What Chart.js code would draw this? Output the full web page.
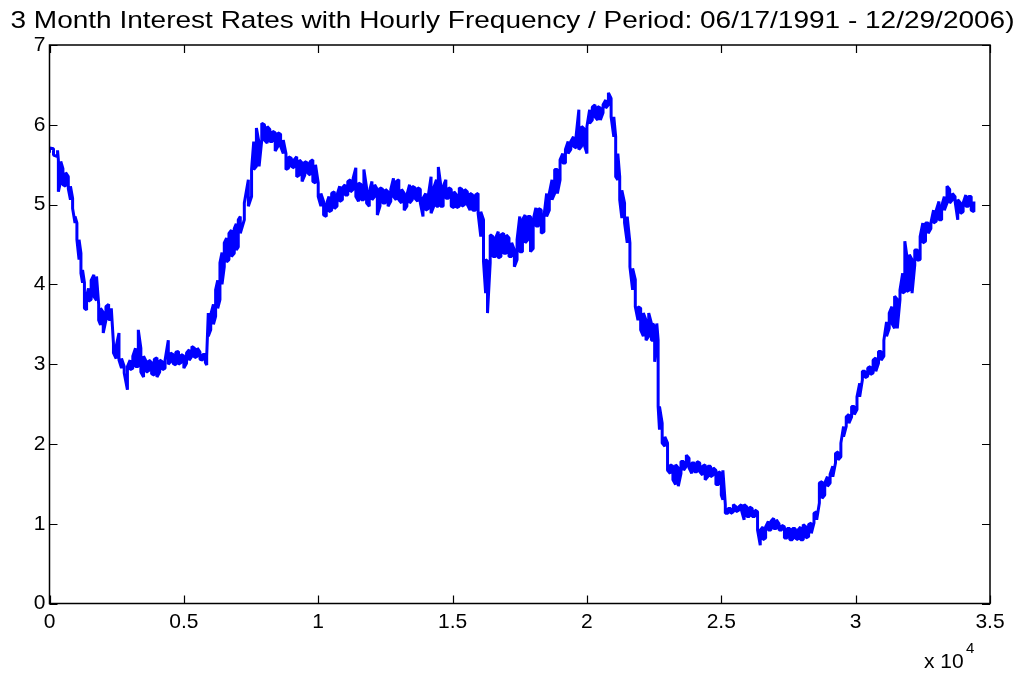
<!DOCTYPE html>
<html>
<head>
<meta charset="utf-8">
<title>3 Month Interest Rates</title>
<script src="https://cdn.jsdelivr.net/npm/chart.js@4.4.0/dist/chart.umd.min.js"></script>
<style>
  html, body { margin: 0; padding: 0; background: #ffffff; }
  #wrap { width: 1022px; height: 673px; }
</style>
</head>
<body>
<div id="wrap"><canvas id="c" width="1022" height="673"></canvas></div>
<script>
// Hourly observation index and the low / high rate seen around each index (percent)
const hours = [
  0,150,300,330,420,500,600,700,780,860,950,1020,1100,1170,1230,1300,1380,1450,1550,1650,
  1750,1830,1900,2000,2100,2200,2300,2380,2480,2586,2680,2780,2900,3000,3100,3200,
  3305,3400,3500,3600,3700,3800,3900,4000,4100,4200,4300,4421,4500,4600,4700,4800,4900,5000,5100,5200,
  5300,5400,5500,5600,5700,5800,5850,5909,6000,6100,6182,6260,6343,6420,6504,6590,6678,6770,6876,6950,7025,
  7100,7250,7400,7520,7600,7700,7800,7900,8000,8100,8200,8300,8400,8500,8600,8700,8800,
  8900,9000,9100,9200,9300,9400,9500,9600,9700,9800,9900,10000,10100,10200,10300,10400,10500,10600,10700,10800,
  10900,11000,11100,11200,11300,11400,11500,11600,11700,11800,11900,12000,12100,12200,12300,12400,12500,12600,12700,12800,
  12900,13000,13100,13200,13300,13400,13500,13600,13700,13800,13900,14000,14100,14200,14300,14400,14470,14550,14650,14750,
  14850,14950,15050,15150,15250,15350,15450,15550,15650,15750,15850,15950,16050,16150,16230,16300,16400,16500,16600,16700,
  16800,16900,17000,17100,17200,17300,17400,17500,17600,17700,17800,17900,18000,18100,18200,18300,18400,18500,18600,18700,
  18800,18900,19000,19100,19200,19300,19400,19500,19600,19700,19800,19900,20000,20100,20200,20300,20400,20500,20600,20700,
  20800,20900,21000,21070,21150,21220,21300,21400,21500,21600,21700,21800,21900,22000,22100,22200,22300,22400,22450,22520,
  22600,22650,22700,22800,22900,23000,23100,23200,23300,23400,23500,23600,23700,23800,23900,24000,24100,24200,24300,24400,
  24500,24600,24700,24800,24900,25000,25060,25150,25250,25350,25450,25550,25650,25750,25850,25950,26050,26150,26250,26350,
  26450,26550,26650,26750,26850,26950,27050,27150,27250,27350,27450,27550,27650,27750,27850,27950,28050,28150,28250,28350,
  28450,28550,28650,28750,28850,28950,29050,29150,29250,29350,29450,29550,29650,29750,29850,29950,30050,30150,30250,30350,
  30450,30550,30650,30750,30850,30950,31050,31150,31250,31350,31450,31550,31650,31750,31830,31900,32000,32100,32200,32300,
  32400,32500,32600,32700,32800,32900,33000,33100,33200,33300,33400,33500,33600,33700,33800,33900,34000,34100,34200,34300,
  34400
];
const rateLow = [
  5.65,5.62,5.60,5.16,5.30,5.25,5.23,5.20,5.06,4.95,4.77,4.56,4.31,4.14,4.02,3.70,3.68,3.79,3.81,3.85,
  3.80,3.55,3.49,3.39,3.55,3.56,3.56,3.14,3.07,3.05,2.95,2.89,2.68,2.93,2.95,2.97,
  2.97,2.90,2.84,2.90,2.92,2.88,2.86,2.84,2.90,2.93,2.95,3.00,3.03,3.01,2.99,3.00,3.02,2.95,3.01,3.05,
  3.10,3.08,3.10,3.06,3.05,3.02,2.99,3.35,3.43,3.50,3.60,3.70,3.81,4.00,4.22,4.28,4.31,4.35,4.39,4.43,4.47,
  4.64,4.81,4.98,5.10,5.44,5.48,5.48,5.81,5.81,5.77,5.79,5.79,5.67,5.73,5.73,5.64,5.44,
  5.46,5.48,5.46,5.35,5.37,5.29,5.37,5.40,5.37,5.29,5.27,5.10,4.98,4.87,4.85,4.91,4.93,4.95,4.98,5.04,
  5.06,5.12,5.12,5.16,5.19,5.10,5.04,5.06,5.06,5.02,4.98,5.06,5.10,4.87,4.98,5.02,5.02,4.98,5.04,5.10,
  5.06,5.06,5.02,4.93,4.98,5.02,5.06,5.08,5.04,5.02,4.85,4.93,4.95,4.89,4.98,4.98,4.98,4.98,4.98,5.08,
  5.08,4.98,4.96,4.96,4.98,4.98,5.00,5.00,4.93,4.93,4.93,4.89,4.60,4.29,3.89,3.64,4.27,4.35,4.35,4.33,
  4.35,4.39,4.39,4.35,4.35,4.22,4.31,4.41,4.41,4.52,4.56,4.41,4.45,4.73,4.73,4.64,4.66,4.85,4.93,5.06,
  5.14,5.14,5.31,5.52,5.52,5.64,5.69,5.73,5.71,5.69,5.73,5.75,5.64,6.02,6.06,6.10,6.06,6.06,6.15,6.21,
  6.25,6.10,5.85,5.35,5.31,5.06,4.83,4.77,4.52,4.22,3.93,3.72,3.55,3.43,3.35,3.30,3.35,3.30,3.30,3.03,
  3.30,2.47,2.18,2.01,1.97,1.67,1.63,1.55,1.49,1.47,1.63,1.67,1.72,1.70,1.63,1.65,1.65,1.65,1.61,1.55,
  1.59,1.59,1.61,1.49,1.49,1.36,1.30,1.13,1.13,1.13,1.15,1.15,1.17,1.17,1.05,1.09,1.09,1.09,1.09,0.92,
  0.73,0.80,0.82,0.92,0.92,0.94,0.94,0.92,0.92,0.82,0.82,0.80,0.80,0.82,0.80,0.80,0.80,0.82,0.84,0.88,
  1.01,1.05,1.26,1.32,1.36,1.47,1.51,1.59,1.76,1.80,1.84,2.09,2.22,2.26,2.34,2.37,2.43,2.59,2.80,2.83,
  2.85,2.87,2.89,2.91,3.01,3.05,3.10,3.35,3.45,3.51,3.45,3.45,3.81,3.89,3.91,3.91,3.93,3.89,4.24,4.30,
  4.31,4.52,4.54,4.64,4.70,4.77,4.79,4.81,4.81,4.93,5.02,5.02,5.06,5.04,4.81,4.89,4.91,4.98,4.98,4.93,
  4.91
];
const rateHigh = [
  5.71,5.70,5.68,5.56,5.54,5.45,5.40,5.35,5.23,5.08,4.85,4.77,4.56,4.39,4.18,4.02,3.85,3.95,4.05,4.12,
  4.10,3.75,3.70,3.65,3.72,3.75,3.70,3.26,3.22,3.39,3.07,2.97,2.97,3.05,3.10,3.20,
  3.43,3.20,3.10,3.03,3.05,3.02,3.06,3.08,3.05,3.03,3.05,3.30,3.14,3.12,3.15,3.16,3.12,3.10,3.14,3.18,
  3.22,3.20,3.20,3.15,3.12,3.12,3.10,3.64,3.62,3.75,3.93,4.05,4.27,4.40,4.52,4.58,4.64,4.68,4.70,4.76,4.81,
  4.85,5.02,5.31,5.44,5.79,5.96,5.77,6.02,6.00,5.98,5.94,5.92,5.90,5.90,5.88,5.81,5.64,
  5.60,5.58,5.56,5.60,5.56,5.52,5.54,5.52,5.54,5.56,5.50,5.27,5.14,5.04,5.00,5.10,5.14,5.16,5.12,5.23,
  5.21,5.25,5.29,5.31,5.33,5.46,5.27,5.25,5.44,5.21,5.16,5.29,5.25,5.19,5.21,5.19,5.19,5.16,5.19,5.33,
  5.29,5.31,5.19,5.14,5.12,5.25,5.23,5.21,5.21,5.19,5.08,5.14,5.12,5.35,5.21,5.31,5.47,5.27,5.23,5.31,
  5.21,5.19,5.16,5.12,5.21,5.19,5.19,5.16,5.14,5.12,5.12,5.14,4.91,4.81,4.31,4.29,4.62,4.60,4.58,4.66,
  4.62,4.64,4.62,4.58,4.52,4.43,4.56,4.85,4.81,4.87,4.85,4.85,4.81,4.96,4.95,4.93,4.85,5.14,5.14,5.31,
  5.44,5.44,5.56,5.64,5.69,5.79,5.79,5.85,5.87,6.19,5.98,5.95,5.98,6.19,6.22,6.25,6.23,6.21,6.25,6.31,
  6.40,6.33,6.10,5.85,5.64,5.35,5.18,5.02,4.85,4.52,4.20,4.06,3.72,3.70,3.64,3.55,3.64,3.51,3.51,3.47,
  3.51,3.30,2.47,2.26,2.09,2.01,1.74,1.72,1.74,1.70,1.78,1.78,1.86,1.82,1.76,1.76,1.78,1.76,1.72,1.74,
  1.72,1.72,1.70,1.67,1.65,1.63,1.67,1.24,1.19,1.19,1.24,1.21,1.21,1.24,1.24,1.21,1.21,1.19,1.17,1.15,
  0.92,0.96,0.96,1.03,1.03,1.07,1.05,1.00,0.98,0.96,0.94,0.94,0.94,0.94,0.92,0.96,0.99,0.96,0.99,1.01,
  1.13,1.15,1.51,1.53,1.51,1.59,1.62,1.72,1.88,1.90,2.01,2.22,2.34,2.37,2.47,2.47,2.59,2.76,2.91,2.91,
  2.95,2.97,3.05,3.08,3.16,3.16,3.30,3.53,3.64,3.72,3.85,3.81,3.93,4.14,4.54,4.37,4.37,4.31,4.43,4.43,
  4.60,4.77,4.77,4.77,4.77,4.93,4.93,5.04,4.98,5.10,5.23,5.19,5.14,5.10,5.06,5.02,5.02,5.12,5.10,5.10,
  5.04
];

// Axis ticks
const xTickValues = [0, 5000, 10000, 15000, 20000, 25000, 30000, 35000];
const xTickLabels = ['0', '0.5', '1', '1.5', '2', '2.5', '3', '3.5'];
const yTickValues = [0, 1, 2, 3, 4, 5, 6, 7];

const titleText = '3 Month Interest Rates with Hourly Frequency / Period: 06/17/1991 - 12/29/2006)';
const FONT = '"Liberation Sans", Arial, Helvetica, sans-serif';

// Each sampled index contributes a vertical stroke from its low to its high reading
const points = [];
hours.forEach((h, i) => {
  if (i % 2 === 0) {
    points.push({ x: h, y: rateLow[i] }, { x: h, y: rateHigh[i] });
  } else {
    points.push({ x: h, y: rateHigh[i] }, { x: h, y: rateLow[i] });
  }
});

// Box, inward tick marks, title and exponent label
const framePlugin = {
  id: 'frame',
  afterDraw(chart) {
    const ctx = chart.ctx;
    const a = chart.chartArea;
    const xs = chart.scales.x, ys = chart.scales.y;
    const tick = 8;
    ctx.save();
    ctx.strokeStyle = '#000000';
    ctx.lineWidth = 1.5;
    ctx.strokeRect(a.left, a.top, a.right - a.left, a.bottom - a.top);
    ctx.beginPath();
    xTickValues.forEach(v => {
      const px = Math.round(xs.getPixelForValue(v)) + 0.5;
      ctx.moveTo(px, a.bottom); ctx.lineTo(px, a.bottom - tick);
      ctx.moveTo(px, a.top); ctx.lineTo(px, a.top + tick);
    });
    yTickValues.forEach(v => {
      const py = Math.round(ys.getPixelForValue(v)) + 0.5;
      ctx.moveTo(a.left, py); ctx.lineTo(a.left + tick, py);
      ctx.moveTo(a.right, py); ctx.lineTo(a.right - tick, py);
    });
    ctx.lineWidth = 1.2;
    ctx.stroke();

    // title, stretched to the figure width
    ctx.fillStyle = '#000000';
    ctx.font = '24px ' + FONT;
    ctx.textBaseline = 'alphabetic';
    ctx.textAlign = 'center';
    const w = ctx.measureText(titleText).width;
    const sx = 1004 / w;
    ctx.save();
    ctx.translate(512.5, 28);
    ctx.scale(sx, 1);
    ctx.fillText(titleText, 0, 0);
    ctx.restore();

    // x-axis multiplier
    ctx.textAlign = 'left';
    ctx.font = '21px ' + FONT;
    ctx.fillText('x 10', 924, 668);
    ctx.font = '15px ' + FONT;
    ctx.fillText('4', 966, 653);
    ctx.restore();
  }
};

new Chart(document.getElementById('c'), {
  type: 'line',
  data: {
    datasets: [{
      data: points,
      borderColor: '#0000ff',
      borderWidth: 3,
      borderJoinStyle: 'bevel',
      pointRadius: 0,
      fill: false,
      tension: 0
    }]
  },
  options: {
    responsive: false,
    animation: false,
    devicePixelRatio: 1,
    layout: { padding: { top: 45, right: 32, left: 0, bottom: 0 } },
    plugins: {
      legend: { display: false },
      tooltip: { enabled: false },
      title: { display: false }
    },
    scales: {
      x: {
        type: 'linear',
        min: 0,
        max: 35000,
        afterBuildTicks(s) { s.ticks = xTickValues.map(v => ({ value: v })); },
        afterFit(s) { s.height = 69.5; },
        grid: { display: false, drawTicks: false },
        border: { display: false },
        ticks: {
          autoSkip: false,
          maxRotation: 0,
          padding: 6,
          color: '#000000',
          font: { family: FONT, size: 21 },
          callback: (v, i) => xTickLabels[i]
        }
      },
      y: {
        type: 'linear',
        min: 0,
        max: 7,
        afterBuildTicks(s) { s.ticks = yTickValues.map(v => ({ value: v })); },
        afterFit(s) { s.width = 49.5; },
        grid: { display: false, drawTicks: false },
        border: { display: false },
        ticks: {
          padding: 4,
          color: '#000000',
          font: { family: FONT, size: 21 },
          callback: v => String(v)
        }
      }
    }
  },
  plugins: [framePlugin]
});
</script>
</body>
</html>
